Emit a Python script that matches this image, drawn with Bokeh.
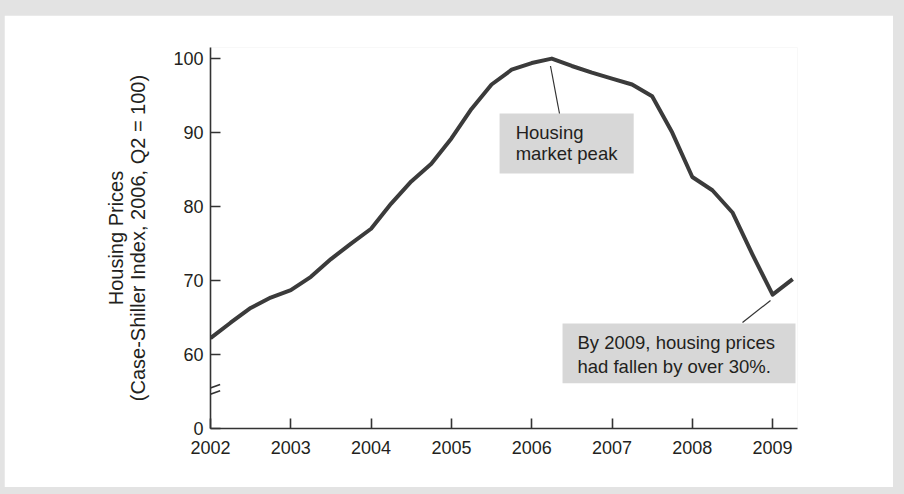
from bokeh.plotting import figure
from bokeh.models import Range1d, FixedTicker, Arrow, ColumnDataSource
from bokeh.layouts import column
from bokeh.core.properties import value
from bokeh.embed import file_html
from bokeh.resources import INLINE

# Case-Shiller housing price index, quarterly (2006 Q2 = 100)
quarters = [2002.00, 2002.25, 2002.50, 2002.75,
            2003.00, 2003.25, 2003.50, 2003.75,
            2004.00, 2004.25, 2004.50, 2004.75,
            2005.00, 2005.25, 2005.50, 2005.75,
            2006.00, 2006.25, 2006.50, 2006.75,
            2007.00, 2007.25, 2007.50, 2007.75,
            2008.00, 2008.25, 2008.50, 2008.75,
            2009.00, 2009.25]
index_values = [62.2, 64.3, 66.3, 67.7,
                68.7, 70.5, 72.9, 75.0,
                77.0, 80.4, 83.4, 85.8,
                89.2, 93.2, 96.5, 98.5,
                99.4, 100.0, 99.0, 98.1,
                97.3, 96.5, 94.9, 90.0,
                84.0, 82.2, 79.2, 73.5,
                68.1, 70.2]

year_ticks = [2002, 2003, 2004, 2005, 2006, 2007, 2008, 2009]
year_labels = ["2002", "2003", "2004", "2005", "2006", "2007", "2008", "2009"]
price_ticks = [60, 70, 80, 90, 100]

# the value axis is broken: everything below the break is squeezed so that
# the zero tick sits 10 units under 60
AXIS_ZERO = 50
BREAK_AT = 55

FONT = "Liberation Sans"
INK = "#231f20"
LINE = "#3b3b3b"
BOX = "#d7d7d7"

p = figure(width=889, height=472, output_backend="svg", toolbar_location=None,
           x_range=Range1d(2002, 2009.31), y_range=Range1d(AXIS_ZERO, 101.5),
           min_border_left=206, min_border_right=96,
           min_border_top=32, min_border_bottom=59)
p.outline_line_color = None
p.background_fill_color = "white"
p.border_fill_color = "white"
p.grid.visible = False

# x axis
p.xaxis.ticker = FixedTicker(ticks=year_ticks)
p.xaxis.major_label_overrides = {y: lab for y, lab in zip(year_ticks, year_labels)}
p.xaxis.minor_tick_line_color = None
p.xaxis.major_tick_in = 10
p.xaxis.major_tick_out = 0
p.xaxis.major_label_standoff = 12

# y axis
p.yaxis.ticker = FixedTicker(ticks=[AXIS_ZERO] + price_ticks)
p.yaxis.major_label_overrides = {AXIS_ZERO: "0"}
p.yaxis.minor_tick_line_color = None
p.yaxis.major_tick_in = 10
p.yaxis.major_tick_out = 0
p.yaxis.major_label_standoff = 7
p.yaxis.axis_label = "Housing Prices\n(Case-Shiller Index, 2006, Q2 = 100)"
p.yaxis.axis_label_standoff = 21
p.yaxis.axis_label_text_line_height = 1.0

for ax in (p.xaxis, p.yaxis):
    ax.axis_line_color = "#333333"
    ax.axis_line_width = 1.6
    ax.major_tick_line_color = "#333333"
    ax.major_tick_line_width = 1.6
    ax.major_label_text_font = FONT
    ax.major_label_text_font_size = "18px"
    ax.major_label_text_color = INK
    ax.axis_label_text_font = FONT
    ax.axis_label_text_font_size = "20px"
    ax.axis_label_text_font_style = "normal"
    ax.axis_label_text_color = INK

# the price series
src = ColumnDataSource(dict(x=quarters, y=index_values))
p.line("x", "y", source=src, line_color=LINE, line_width=4, line_join="round")

# callout: market peak
p.quad(left=[2005.60], right=[2007.27], top=[92.58], bottom=[84.47],
       fill_color=BOX, line_color=None)
p.segment(x0=[2006.234], y0=[99.0], x1=[2006.346], y1=[92.58],
          line_color="#333333", line_width=1.2)
p.text(x=[2005.80, 2005.80], y=[90.0, 87.2], text=["Housing", "market peak"],
       text_font=value(FONT), text_font_size="18.5px", text_color=INK,
       text_baseline="middle", text_align="left")

# callout: the 2009 trough
p.quad(left=[2006.384], right=[2009.285], top=[64.20], bottom=[56.10],
       fill_color=BOX, line_color=None)
p.segment(x0=[2008.974], y0=[67.3], x1=[2008.625], y1=[64.34],
          line_color="#333333", line_width=1.2)
p.text(x=[2006.57, 2006.57], y=[61.64, 58.40],
       text=["By 2009, housing prices", "had fallen by over 30%."],
       text_font=value(FONT), text_font_size="18.5px", text_color=INK,
       text_baseline="middle", text_align="left")

# axis-break marks across the value axis
dx = 0.12
for off in (0.0, -0.85):
    p.add_layout(Arrow(end=None, x_start=2002 - dx, y_start=BREAK_AT + off,
                       x_end=2002 + dx, y_end=BREAK_AT + off + 0.95,
                       line_color="#333333", line_width=1.6))

page = column(p, styles={"background-color": "#e3e3e3",
                         "padding": "15px 11px 7px 4px"})

open("out.html", "w").write(file_html(page, INLINE))
